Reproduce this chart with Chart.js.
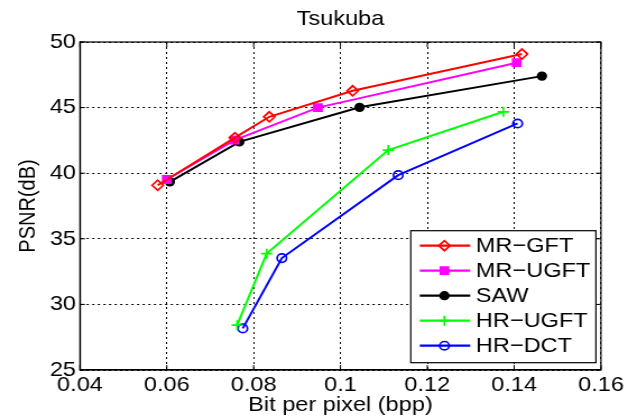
<!DOCTYPE html>
<html>
<head>
<meta charset="utf-8">
<script src="https://cdn.jsdelivr.net/npm/chart.js"></script>
<style>
  html, body { margin: 0; padding: 0; background: #fff; overflow: hidden; }
  /* the source figure is a horizontally stretched matlab plot */
  #wrap { width: 560px; height: 418px; transform: scaleX(1.1214); transform-origin: 0 0; }
  canvas { display: block; }
</style>
</head>
<body>
<div id="wrap"><canvas id="psnrChart" width="560" height="418" style="width:560px;height:418px"></canvas></div>
<script>
// Dados (Tsukuba)
const seriesNames = ["MR−GFT", "MR−UGFT", "SAW", "HR−UGFT", "HR−DCT"];

const bppMrGft = [0.0579, 0.0757, 0.0836, 0.1028, 0.1418];
const psnrMrGft = [39.08, 42.71, 44.30, 46.28, 49.08];

const bppMrUgft = [0.0600, 0.0756, 0.0948, 0.1406];
const psnrMrUgft = [39.52, 42.52, 45.00, 48.42];

const bppSaw = [0.0607, 0.0767, 0.1044, 0.1464];
const psnrSaw = [39.34, 42.39, 45.02, 47.40];

const bppHrUgft = [0.0762, 0.0830, 0.1110, 0.1375];
const psnrHrUgft = [28.42, 33.87, 41.76, 44.68];

const bppHrDct = [0.0775, 0.0865, 0.1133, 0.1408];
const psnrHrDct = [28.17, 33.53, 39.85, 43.79];

const xTicks = [0.04, 0.06, 0.08, 0.1, 0.12, 0.14, 0.16];
const xTickLabels = ["0.04", "0.06", "0.08", "0.1", "0.12", "0.14", "0.16"];
const yTicks = [25, 30, 35, 40, 45, 50];
const yTickLabels = ["25", "30", "35", "40", "45", "50"];

const FONT = "'Liberation Sans', Arial, Helvetica, sans-serif";

function pts(xs, ys) {
  return xs.map((x, i) => ({ x: x, y: ys[i] }));
}

function serie(label, xs, ys, color, style, radius, filled) {
  return {
    label: label,
    data: pts(xs, ys),
    borderColor: color,
    backgroundColor: filled ? color : "rgba(0,0,0,0)",
    borderWidth: 2,
    pointStyle: style,
    pointRadius: radius,
    pointBorderWidth: 1.7,
    pointBorderColor: color,
    pointBackgroundColor: filled ? color : "rgba(0,0,0,0)",
    tension: 0,
    fill: false
  };
}

const datasets = [
  serie(seriesNames[0], bppMrGft, psnrMrGft, "#ff0000", "rectRot", 5, false),
  serie(seriesNames[1], bppMrUgft, psnrMrUgft, "#ff00ff", "rect", 5, true),
  serie(seriesNames[2], bppSaw, psnrSaw, "#000000", "circle", 3.8, true),
  serie(seriesNames[3], bppHrUgft, psnrHrUgft, "#00ff00", "cross", 5, false),
  serie(seriesNames[4], bppHrDct, psnrHrDct, "#0000ff", "circle", 4.2, false)
];

// caixa, marcas internas, título e legenda à moda do matlab
const matlabFrame = {
  id: "matlabFrame",
  beforeDatasetsDraw(chart) {
    const { ctx, chartArea: a, scales } = chart;
    ctx.save();
    ctx.strokeStyle = "#000";
    ctx.lineWidth = 1.2;
    ctx.strokeRect(a.left, a.top, a.right - a.left, a.bottom - a.top);
    ctx.lineWidth = 1;
    ctx.beginPath();
    xTicks.forEach(v => {
      const px = scales.x.getPixelForValue(v);
      ctx.moveTo(px, a.bottom); ctx.lineTo(px, a.bottom - 5);
      ctx.moveTo(px, a.top); ctx.lineTo(px, a.top + 5);
    });
    yTicks.forEach(v => {
      const py = scales.y.getPixelForValue(v);
      ctx.moveTo(a.left, py); ctx.lineTo(a.left + 4.5, py);
      ctx.moveTo(a.right, py); ctx.lineTo(a.right - 4.5, py);
    });
    ctx.stroke();
    ctx.restore();
  },
  afterDraw(chart) {
    const { ctx, chartArea: a } = chart;
    ctx.save();
    // título
    ctx.fillStyle = "#000";
    ctx.font = "21px " + FONT;
    ctx.textAlign = "center";
    ctx.textBaseline = "alphabetic";
    ctx.fillText("Tsukuba", (a.left + a.right) / 2, 25);

    // legenda
    const rowH = 25;
    const sets = chart.data.datasets;
    let maxW = 0;
    sets.forEach(d => { maxW = Math.max(maxW, ctx.measureText(d.label).width); });
    const boxW = 58 + maxW + 5;
    const boxH = rowH * sets.length + 7;
    const bx = a.right - 4.5 - boxW;
    const by = a.bottom - 7.3 - boxH;
    ctx.fillStyle = "#fff";
    ctx.fillRect(bx, by, boxW, boxH);
    ctx.strokeStyle = "#000";
    ctx.lineWidth = 1.2;
    ctx.strokeRect(bx, by, boxW, boxH);
    sets.forEach((d, i) => {
      const cy = by + 15 + i * rowH;
      ctx.strokeStyle = d.borderColor;
      ctx.lineWidth = 2.2;
      ctx.beginPath();
      ctx.moveTo(bx + 8, cy);
      ctx.lineTo(bx + 53, cy);
      ctx.stroke();
      ctx.fillStyle = d.pointBackgroundColor;
      ctx.strokeStyle = d.pointBorderColor;
      ctx.lineWidth = d.pointBorderWidth;
      Chart.helpers.drawPoint(ctx, {
        pointStyle: d.pointStyle,
        radius: d.pointRadius,
        borderWidth: d.pointBorderWidth,
        rotation: 0
      }, bx + 30, cy);
      ctx.fillStyle = "#000";
      ctx.textAlign = "left";
      ctx.textBaseline = "middle";
      ctx.fillText(d.label, bx + 58, cy + 0.5);
    });
    ctx.restore();
  }
};

const config = {
  type: "line",
  data: { datasets: datasets },
  options: {
    responsive: false,
    animation: false,
    layout: { padding: { top: 42, right: 24.1, bottom: 0, left: 0 } },
    plugins: {
      legend: { display: false },
      title: { display: false },
      tooltip: { enabled: false }
    },
    scales: {
      x: {
        type: "linear",
        min: 0.04,
        max: 0.16,
        afterBuildTicks(scale) { scale.ticks = xTicks.map(v => ({ value: v })); },
        afterFit(scale) { scale.height = 48; },
        ticks: {
          autoSkip: false,
          maxRotation: 0,
          padding: 3,
          color: "#000",
          font: { family: FONT, size: 21 },
          callback: (v, i) => xTickLabels[i]
        },
        grid: {
          drawTicks: false,
          color: "#000",
          lineWidth: 1
        },
        border: { display: true, color: "#000", width: 1.2, dash: [2, 3] },
        title: {
          display: true,
          text: "Bit per pixel (bpp)",
          color: "#000",
          font: { family: FONT, size: 21, lineHeight: 1.2 },
          padding: { top: 0, bottom: 0.4 }
        }
      },
      y: {
        type: "linear",
        min: 25,
        max: 50,
        afterBuildTicks(scale) { scale.ticks = yTicks.map(v => ({ value: v })); },
        afterFit(scale) { scale.width = 71.3; },
        ticks: {
          padding: 3.5,
          color: "#000",
          font: { family: FONT, size: 21 },
          callback: (v, i) => yTickLabels[i]
        },
        grid: {
          drawTicks: false,
          color: "#000",
          lineWidth: 1
        },
        border: { display: true, color: "#000", width: 1.2, dash: [2, 3] },
        title: {
          display: true,
          text: "PSNR(dB)",
          color: "#000",
          font: { family: FONT, size: 20, lineHeight: 1.2 },
          padding: { top: 13.3, bottom: 0 }
        }
      }
    }
  },
  plugins: [matlabFrame]
};

const ctx = document.getElementById("psnrChart").getContext("2d");
new Chart(ctx, config);
</script>
</body>
</html>
